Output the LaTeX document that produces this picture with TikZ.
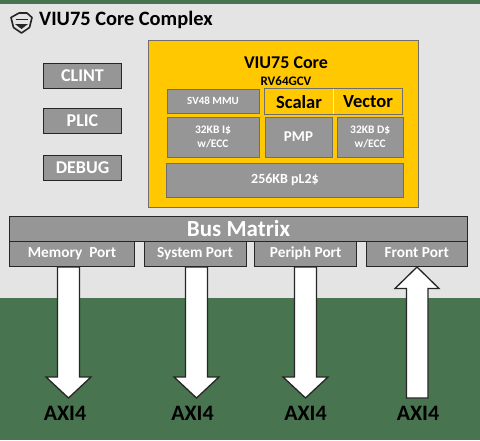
\documentclass[tikz,border=0pt]{standalone}
\usepackage{fontspec}
\setmainfont{Carlito}
\definecolor{bggreen}{HTML}{48744F}
\definecolor{bggrey}{HTML}{E4E4E4}
\definecolor{boxgrey}{HTML}{969696}
\definecolor{edge}{HTML}{262626}
\definecolor{coreyellow}{HTML}{FFC800}
\definecolor{inedge}{HTML}{6E6E6E}
\tikzset{
  x=1pt,y=-1pt,
  block/.style={rectangle,draw=edge,line width=1pt,outer sep=0pt,fill=boxgrey,text=white,font=\bfseries\fontsize{#1}{#1}\selectfont,inner sep=0pt,align=center},
  portblock/.style={block=15.3,minimum height=25pt,anchor=north west,text height=11.5pt,text depth=3pt},
  inblock/.style={rectangle,draw=inedge,line width=1pt,outer sep=0pt,fill=boxgrey,text=white,font=\bfseries\fontsize{#1}{#1}\selectfont,inner sep=0pt,align=center},
  fat/.style={draw=edge,line width=1.3pt,fill=white,line join=miter},
  axi/.style={font=\bfseries\fontsize{22}{22}\selectfont,text=black,inner sep=0pt},
}
\begin{document}
\begin{tikzpicture}
\useasboundingbox (0,0) rectangle (480,440);
\fill[bggreen] (0,0) rectangle (480,440);
\fill[bggrey] (0,3.5) rectangle (480,298);
% logo
\draw[edge,line width=1.6pt,line join=round] (11,17.5) -- (19,13) -- (27,13) -- (32,17.5) -- (29.5,27.5) -- (21.5,33) -- (13.5,27.5) -- cycle;
\draw[edge,line width=1.6pt] (15.5,19.5) -- (28,19.5);
\fill[edge] (15,24) -- (28,24) -- (21.5,29) -- cycle;
\node[anchor=west,inner sep=0pt,font=\bfseries\fontsize{20.4}{20.4}\selectfont,text=black] (title) at (39,20) {VIU75 Core Complex};
% left
\node[block=18,minimum width=78pt,minimum height=25pt,anchor=north west] (clint) at (43.5,63) {CLINT};
\node[block=18,minimum width=78pt,minimum height=25pt,anchor=north west] (plic) at (43.5,108.5) {PLIC};
\node[block=18,minimum width=78pt,minimum height=25pt,anchor=north west] (debug) at (43.5,155) {DEBUG};
% core
\node[rectangle,draw=inedge,line width=1pt,outer sep=0pt,fill=coreyellow,minimum width=270.5pt,minimum height=166.5pt,anchor=north west] (core) at (148,40.5) {};
\node[inner sep=0pt,font=\bfseries\fontsize{18}{18}\selectfont] (coret) at (286,62.5) {VIU75 Core};
\node[inner sep=0pt,font=\bfseries\fontsize{13}{13}\selectfont] (rv) at (286,81) {RV64GCV};
\node[inblock=11,minimum width=92pt,minimum height=24pt,anchor=north west] (mmu) at (167,89) {SV48 MMU};
\node[rectangle,draw=inedge,line width=1pt,outer sep=0pt,fill=coreyellow,minimum width=137.5pt,minimum height=26pt,anchor=north west] (sv) at (264.5,88) {};
\draw[white!70!coreyellow,line width=1pt] (333.7,88.5) -- (333.7,113.5);
\node[inner sep=0pt,font=\bfseries\fontsize{18.5}{18.5}\selectfont] (scalar) at (299,102) {Scalar};
\node[inner sep=0pt,font=\bfseries\fontsize{18.5}{18.5}\selectfont] (vector) at (368,102) {Vector};
\node[inblock=11.5,minimum width=92pt,minimum height=40pt,anchor=north west] (icache) at (167,117) {32KB I\$\\[2pt]w/ECC};
\node[inblock=15,minimum width=67pt,minimum height=40pt,anchor=north west] (pmp) at (265,117) {PMP};
\node[inblock=11.5,minimum width=66.5pt,minimum height=40pt,anchor=north west] (dcache) at (337,117) {32KB D\$\\[2pt]w/ECC};
\node[inblock=14,minimum width=237.5pt,minimum height=34pt,anchor=north west] (l2) at (166.2,163) {256KB pL2\$};
% bus
\node[block=23,minimum width=458pt,minimum height=25pt,anchor=north west] (bus) at (9.5,216) {Bus Matrix};
\node[portblock,minimum width=125pt] (mem) at (9.5,241) {Memory\ \ Port};
\node[portblock,minimum width=102pt] (sys) at (144,241) {System Port};
\node[portblock,minimum width=102pt] (per) at (254.7,241) {Periph Port};
\node[portblock,minimum width=101.5pt] (fro) at (366,241) {Front Port};
% arrows
\foreach \c in {68.5,196.5,305.5}
  \draw[fat] (\c-11,267) -- (\c+11,267) -- (\c+11,377) -- (\c+22.5,377) -- (\c,398) -- (\c-22.5,377) -- (\c-11,377) -- cycle;
\draw[fat] (417,267) -- (439,288.5) -- (428,288.5) -- (428,398) -- (406.5,398) -- (406.5,288.5) -- (395,288.5) -- cycle;
\node[axi] (a1) at (65,413) {AXI4};
\node[axi] (a2) at (192.5,413) {AXI4};
\node[axi] (a3) at (305.5,413) {AXI4};
\node[axi] (a4) at (418,413) {AXI4};
\end{tikzpicture}
\end{document}
